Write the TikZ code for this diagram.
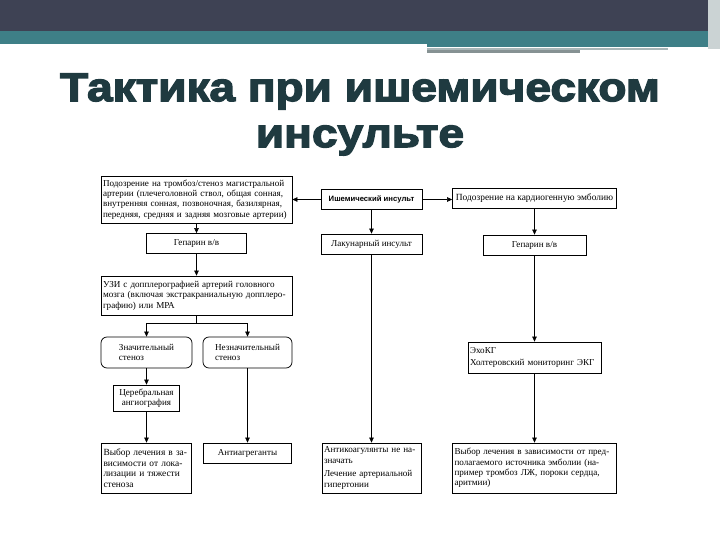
\documentclass[tikz,border=0pt]{standalone}
\usepackage{fontspec}
\setmainfont{Liberation Serif}
\newfontfamily\headfont[FakeBold=3.5,FakeStretch=1.15]{Liberation Sans Bold}
\newfontfamily\labfont{Liberation Sans Bold}
\usetikzlibrary{arrows.meta}
\definecolor{barDark}{RGB}{62,66,84}
\definecolor{barTeal}{RGB}{62,127,135}
\definecolor{barGrey}{RGB}{168,182,184}
\definecolor{headC}{RGB}{31,58,64}

\begin{document}
\begin{tikzpicture}[x=1pt,y=-1pt,
  blk/.style={draw,line width=0.75pt,inner ysep=2.5pt,inner xsep=2pt,
              font=\fontsize{9.1}{10.4}\selectfont,align=left},
  rnd/.style={blk,rounded corners=6pt},
  arr/.style={line width=0.6pt,-{Triangle[length=5pt,width=4.5pt]}},
  ln/.style={line width=0.6pt}]

  \useasboundingbox (0,0) rectangle (720,540);

  % ---- slide header ----
  \fill[barDark] (0,0) rectangle (720,31);
  \fill[barTeal] (0,31) rectangle (720,44);
  \fill[barTeal] (427,44) rectangle (720,47);
  \fill[barGrey] (427,48) rectangle (668,50);
  \fill[barGrey!80!black] (427,50) rectangle (580,53);
  \fill[barGrey!60] (708,0) rectangle (720,49);
  \node[font=\headfont\fontsize{40}{46}\selectfont,text=headC,align=center,anchor=north]
    (title) at (360,70) {Тактика при ишемическом\\инсульте};

  % ---- top row ----
  \node[blk,text width=187pt,minimum height=47pt] (susp) at (196.5,199.5)
    {Подозрение на тромбоз/стеноз магистральной\\артерии (плечеголовной ствол, общая сонная,\\внутренняя сонная, позвоночная, базилярная,\\передняя, средняя и задняя мозговые артерии)};
  \node[blk,align=center,minimum width=101pt,minimum height=20pt,font=\labfont\fontsize{7.7}{9}\selectfont]
    (isch) at (371.5,199.5) {Ишемический инсульт};
  \node[blk,align=center,minimum width=164pt,minimum height=20pt,font=\fontsize{9.4}{10.4}\selectfont]
    (emb) at (534.5,198.5) {Подозрение на кардиогенную эмболию};

  % ---- second row ----
  \node[blk,align=center,minimum width=100pt,minimum height=20pt] (hepL) at (196.5,243.5) {Гепарин в/в};
  \node[blk,align=center,minimum width=101pt,minimum height=20pt] (lac) at (371.5,244) {Лакунарный инсульт};
  \node[blk,align=center,minimum width=103pt,minimum height=20pt] (hepR) at (534.5,245) {Гепарин в/в};

  % ---- left branch ----
  \node[blk,text width=187pt,minimum height=39pt,font=\fontsize{9.1}{10.6}\selectfont] (uzi) at (196.5,295.5)
    {УЗИ с допплерографией артерий головного\\мозга (включая экстракраниальную допплеро-\\графию) или МРА};
  \path (uzi.south) ++(0,8) coordinate (fork);
  \node[rnd,minimum width=91pt,minimum height=31pt] (sig) at (146.5,352.5) {Значительный\\стеноз};
  \node[rnd,minimum width=89pt,minimum height=31pt] (insig) at (247.5,352.5) {Незначительный\\стеноз};
  \node[blk,align=center,minimum width=66pt,minimum height=26pt] (angio) at (146.5,398) {Церебральная\\ангиография};
  \node[blk,text width=86pt,minimum height=50pt,font=\fontsize{9.4}{10.6}\selectfont] (choiceL) at (146.5,468)
    {Выбор лечения в за-\\висимости от лока-\\лизации и тяжести\\стеноза};
  \node[blk,align=center,minimum width=88pt,minimum height=20pt] (anti) at (247.5,453) {Антиагреганты};

  % ---- middle branch ----
  \node[blk,text width=95pt,minimum height=50pt] (noanti) at (371.5,468)
    {Антикоагулянты не на-\\значать\\[3pt]Лечение артериальной\\гипертонии};

  % ---- right branch ----
  \node[blk,text width=129pt,minimum height=31pt] (echo) at (534.5,357.5)
    {ЭхоКГ\\[2pt]Холтеровский мониторинг ЭКГ};
  \node[blk,text width=160pt,minimum height=50pt] (choiceR) at (534.5,468)
    {Выбор лечения в зависимости от пред-\\полагаемого источника эмболии (на-\\пример тромбоз ЛЖ, пороки сердца,\\аритмии)};

  % ---- connectors ----
  \draw[arr] (isch.west) -- (isch.west -| susp.east);
  \draw[arr] (isch.east) -- (isch.east -| emb.west);
  \draw[arr] (susp) -- (hepL);
  \draw[arr] (hepL) -- (uzi);
  \draw[ln] (uzi.south) -- (fork);
  \draw[arr] (fork) -| (sig.north);
  \draw[arr] (fork) -| (insig.north);
  \draw[arr] (sig) -- (angio);
  \draw[arr] (angio) -- (choiceL);
  \draw[arr] (insig) -- (anti);
  \draw[arr] (isch) -- (lac);
  \draw[arr] (lac) -- (noanti);
  \draw[arr] (emb) -- (hepR);
  \draw[arr] (hepR) -- (echo);
  \draw[arr] (echo) -- (choiceR);

\end{tikzpicture}
\end{document}
